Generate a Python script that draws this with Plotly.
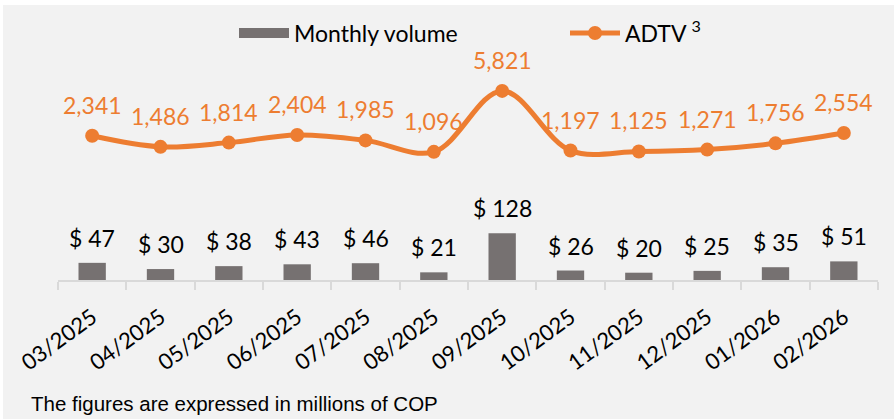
import plotly.graph_objects as go

months = ["03/2025", "04/2025", "05/2025", "06/2025", "07/2025", "08/2025",
          "09/2025", "10/2025", "11/2025", "12/2025", "01/2026", "02/2026"]
monthly_volume = [47, 30, 38, 43, 46, 21, 128, 26, 20, 25, 35, 51]
adtv = [2341, 1486, 1814, 2404, 1985, 1096, 5821, 1197, 1125, 1271, 1756, 2554]

ORANGE = "#ED7D31"
GRAY = "#767171"
FONT = "Lato"
FS = 23

# layout geometry
W, H = 894, 419
ml, mr, mt, mb = 58, 16, 50, 139
pw, ph = W - ml - mr, H - mt - mb


def px_x(p):
    return (p - ml) / pw


def px_y(p):
    return (H - mb - p) / ph


fig = go.Figure()
fig.add_trace(go.Bar(
    x=months, y=monthly_volume, name="Monthly volume",
    marker=dict(color=GRAY, line=dict(width=0)), width=0.4,
    yaxis="y", hoverinfo="skip", showlegend=False,
))
# legend entry for the bars (wide rectangle swatch)
fig.add_trace(go.Scatter(
    x=[None], y=[None], name="Monthly volume", mode="lines",
    line=dict(color=GRAY, width=15), yaxis="y", hoverinfo="skip",
))
fig.add_trace(go.Scatter(
    x=months, y=adtv, name="ADTV <sup>3</sup>", yaxis="y2",
    mode="lines+markers",
    line=dict(color=ORANGE, width=5, shape="spline", smoothing=1),
    marker=dict(color=ORANGE, size=14),
    hoverinfo="skip",
))

annotations = []
for m, v in zip(months, monthly_volume):
    annotations.append(dict(x=m, y=v, xref="x", yref="y", text=f"$ {v}",
                            showarrow=False, yanchor="middle", yshift=25,
                            font=dict(family=FONT, size=FS, color="#000000")))
for m, v in zip(months, adtv):
    annotations.append(dict(x=m, y=v, xref="x", yref="y2", text=f"{v:,}",
                            showarrow=False, yanchor="middle", yshift=31,
                            font=dict(family=FONT, size=FS, color=ORANGE)))
annotations.append(dict(x=px_x(29), y=px_y(403), xref="paper", yref="paper",
                        text="The figures are expressed in millions of COP",
                        showarrow=False, xanchor="left", yanchor="middle",
                        font=dict(family="Liberation Sans", size=20.5, color="#000000")))

shapes = [dict(type="rect", xref="paper", yref="paper", layer="below",
               x0=px_x(3), x1=px_x(W + 5), y0=px_y(5), y1=px_y(H + 5),
               fillcolor="#F2F2F2", line=dict(width=0))]

fig.update_layout(
    width=W, height=H,
    margin=dict(l=ml, r=mr, t=mt, b=mb, autoexpand=False),
    paper_bgcolor="#FFFFFF", plot_bgcolor="rgba(0,0,0,0)",
    showlegend=True,
    legend=dict(orientation="h", x=px_x(234), xanchor="left",
                y=px_y(33), yanchor="middle",
                font=dict(family=FONT, size=FS, color="#000000"),
                bgcolor="rgba(0,0,0,0)", itemwidth=50, entrywidth=266),
    xaxis=dict(type="category", range=[-0.5, 11.5], showgrid=False,
               showline=True, linecolor="#D9D9D9", linewidth=2,
               ticks="outside", tickson="boundaries", ticklen=8,
               tickcolor="#D9D9D9", tickwidth=2, tickangle=-36,
               ticklabelstandoff=14,
               tickfont=dict(family=FONT, size=22, color="#000000"),
               zeroline=False, automargin=False),
    yaxis=dict(range=[0, 630], visible=False, showgrid=False, zeroline=False),
    yaxis2=dict(range=[-8837, 8992], overlaying="y", visible=False,
                showgrid=False, zeroline=False),
    annotations=annotations,
    shapes=shapes,
    hovermode=False,
)

fig.write_html(
    "out.html",
    config={"displayModeBar": False},
    post_script="document.body.style.margin='0';document.body.style.overflow='hidden';",
)
